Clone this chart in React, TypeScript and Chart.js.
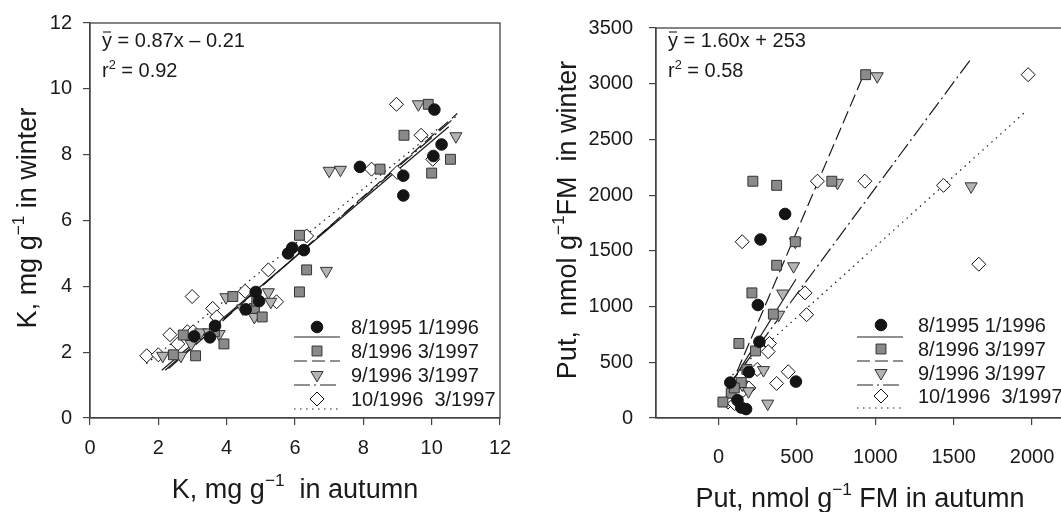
import React, { useEffect, useRef } from 'react';
import { Chart, registerables } from 'chart.js';

Chart.register(...registerables);

const FONT = '"Liberation Sans", Arial, Helvetica, sans-serif';

// ---------------- Legend labels ----------------
const seriesLabels = ['8/1995 1/1996', '8/1996 3/1997', '9/1996 3/1997', '10/1996  3/1997'];

// ---------------- Left panel: K (mg g-1), autumn vs winter ----------------
const kTicksX = [0, 2, 4, 6, 8, 10, 12];
const kTicksY = [0, 2, 4, 6, 8, 10, 12];

const kAutumn95 = [3.05, 3.51, 3.66, 4.56, 4.85, 4.95, 5.8, 5.92, 6.26, 7.9, 9.17, 9.17, 10.05, 10.29, 10.08];
const kWinter95 = [2.48, 2.45, 2.8, 3.3, 3.83, 3.55, 5.0, 5.17, 5.1, 7.63, 7.36, 6.76, 7.96, 8.31, 9.37];

const kAutumn96a = [2.44, 3.09, 2.73, 3.92, 3.64, 4.18, 4.81, 4.88, 5.04, 6.13, 6.34, 6.13, 8.49, 9.19, 9.9, 10.55, 10.0];
const kWinter96a = [1.92, 1.89, 2.52, 2.25, 2.62, 3.69, 3.33, 3.55, 3.07, 5.55, 4.5, 3.83, 7.56, 8.59, 9.53, 7.86, 7.44];

const kAutumn96b = [2.13, 2.66, 2.96, 3.24, 3.48, 3.78, 3.98, 4.47, 4.81, 5.22, 5.29, 6.92, 7.0, 7.33, 9.61, 10.71];
const kWinter96b = [1.89, 1.89, 2.25, 2.6, 2.6, 2.55, 3.67, 3.33, 3.07, 3.82, 3.53, 4.47, 7.51, 7.54, 9.53, 8.56];

const kAutumn96c = [1.66, 2.0, 2.34, 2.57, 2.85, 3.02, 2.99, 3.59, 3.71, 4.54, 5.22, 5.46, 6.34, 8.24, 8.99, 10.03, 9.69, 8.97];
const kWinter96c = [1.89, 1.92, 2.53, 2.25, 2.62, 2.62, 3.69, 3.33, 3.07, 3.85, 4.5, 3.53, 5.53, 7.56, 7.46, 7.86, 8.59, 9.53];

// regression line end points
const kFit95X = [2.1, 10.5];
const kFit95Y = [1.45, 8.85];
const kFit96aX = [2.3, 10.75];
const kFit96aY = [1.5, 9.25];
const kFit96bX = [2.2, 10.7];
const kFit96bY = [1.45, 9.15];
const kFit96cX = [1.65, 10.2];
const kFit96cY = [1.65, 8.8];

// ---------------- Right panel: Put (nmol g-1 FM), autumn vs winter ----------------
const pTicksX = [0, 500, 1000, 1500, 2000];
const pTicksY = [0, 500, 1000, 1500, 2000, 2500, 3000, 3500];

const pAutumn95 = [424, 267, 250, 260, 193, 493, 74, 144, 175, 120];
const pWinter95 = [1831, 1602, 1014, 684, 412, 327, 318, 94, 80, 160];

const pAutumn96a = [938, 218, 370, 722, 370, 489, 212, 349, 129, 235, 180, 144, 80, 27, 100];
const pWinter96a = [3081, 2125, 2088, 2125, 1371, 1582, 1123, 932, 669, 602, 436, 318, 222, 143, 270];

const pAutumn96b = [1012, 758, 1611, 489, 478, 409, 383, 286, 313, 190, 150, 115];
const pWinter96b = [3067, 2111, 2079, 1582, 1362, 1117, 927, 430, 129, 240, 300, 160];

const pAutumn96c = [1975, 630, 933, 1435, 1660, 150, 551, 561, 324, 316, 246, 444, 370, 133, 193, 59, 102];
const pWinter96c = [3081, 2125, 2125, 2088, 1380, 1582, 1123, 927, 669, 596, 436, 415, 310, 217, 269, 143, 129];

const pFit95X = [74, 493];
const pFit95Y = [300, 1245];
const pFit96aX = [27, 913];
const pFit96aY = [120, 3040];
const pFit96bX = [60, 1617];
const pFit96bY = [280, 3235];
const pFit96cX = [60, 1956];
const pFit96cY = [350, 2746];

// ---------------- Styles ----------------
type Marker = { shape: string; r: number; fill: string; stroke: string; rotation: number };
const markers: Marker[] = [
  { shape: 'circle', r: 5.8, fill: '#141414', stroke: '#141414', rotation: 0 },
  { shape: 'rect', r: 7, fill: '#8a8a8a', stroke: '#333333', rotation: 0 },
  { shape: 'triangle', r: 7, fill: '#b4b4b4', stroke: '#333333', rotation: 180 },
  { shape: 'rectRot', r: 7, fill: '#ffffff', stroke: '#111111', rotation: 0 },
];
const dashes: number[][] = [[], [13, 5], [16, 4, 2, 4], [1.5, 4.5]];

const zip = (xs: number[], ys: number[]) => xs.map((x, i) => ({ x, y: ys[i] }));

type Seg = { t: string; sup?: boolean; bar?: boolean };

function drawRich(
  ctx: CanvasRenderingContext2D,
  segs: Seg[],
  x: number,
  y: number,
  size: number,
  align: 'left' | 'center',
  rotate: boolean
) {
  ctx.save();
  ctx.translate(x, y);
  if (rotate) ctx.rotate(-Math.PI / 2);
  ctx.fillStyle = '#1a1a1a';
  ctx.strokeStyle = '#1a1a1a';
  ctx.textAlign = 'left';
  ctx.textBaseline = 'alphabetic';
  const widths = segs.map((s) => {
    ctx.font = `${s.sup ? size * 0.64 : size}px ${FONT}`;
    return ctx.measureText(s.t).width;
  });
  const total = widths.reduce((a, b) => a + b, 0);
  let cx = align === 'center' ? -total / 2 : 0;
  const base = size * 0.36;
  segs.forEach((s, i) => {
    ctx.font = `${s.sup ? size * 0.64 : size}px ${FONT}`;
    const by = s.sup ? base - size * 0.42 : base;
    ctx.fillText(s.t, cx, by);
    if (s.bar) {
      ctx.lineWidth = 1.1;
      ctx.beginPath();
      ctx.moveTo(cx + 1, base - size * 0.76);
      ctx.lineTo(cx + widths[i] - 1, base - size * 0.76);
      ctx.stroke();
    }
    cx += widths[i];
  });
  ctx.restore();
}

function drawMarker(ctx: CanvasRenderingContext2D, m: Marker, x: number, y: number) {
  ctx.save();
  ctx.lineWidth = 1;
  ctx.fillStyle = m.fill;
  ctx.strokeStyle = m.stroke;
  ctx.beginPath();
  const r = m.r;
  if (m.shape === 'circle') {
    ctx.arc(x, y, r, 0, Math.PI * 2);
  } else if (m.shape === 'rect') {
    const s = r * Math.SQRT1_2;
    ctx.rect(x - s, y - s, 2 * s, 2 * s);
  } else if (m.shape === 'triangle') {
    ctx.moveTo(x, y + r);
    ctx.lineTo(x - r * 0.866, y - r / 2);
    ctx.lineTo(x + r * 0.866, y - r / 2);
    ctx.closePath();
  } else {
    ctx.moveTo(x, y - r);
    ctx.lineTo(x + r, y);
    ctx.lineTo(x, y + r);
    ctx.lineTo(x - r, y);
    ctx.closePath();
  }
  ctx.fill();
  ctx.stroke();
  ctx.restore();
}

type DecorCfg = {
  eq: Seg[];
  r2: Seg[];
  eqX: number;
  eqY1: number;
  eqY2: number;
  legendMarkerX: number;
  legendLineX1: number;
  legendLineX2: number;
  legendTextX: number;
  legendRows: number[];
  legendLineOffset: number;
  xTitle: Seg[];
  xTitleX: number;
  xTitleY: number;
  yTitle: Seg[];
  yTitleX: number;
  yTitleY: number;
};

function makeDecor(cfg: DecorCfg) {
  return {
    id: 'decor',
    afterDraw(chart: any) {
      const ctx: CanvasRenderingContext2D = chart.ctx;
      const ca = chart.chartArea;
      ctx.save();
      ctx.strokeStyle = '#444';
      ctx.lineWidth = 1.3;
      ctx.strokeRect(ca.left, ca.top, ca.right - ca.left, ca.bottom - ca.top);
      ctx.restore();

      drawRich(ctx, cfg.eq, cfg.eqX, cfg.eqY1, 20, 'left', false);
      drawRich(ctx, cfg.r2, cfg.eqX, cfg.eqY2, 20, 'left', false);

      cfg.legendRows.forEach((ry, i) => {
        ctx.save();
        ctx.strokeStyle = '#222';
        ctx.lineWidth = 1.2;
        ctx.setLineDash(dashes[i]);
        ctx.beginPath();
        ctx.moveTo(cfg.legendLineX1, ry + cfg.legendLineOffset);
        ctx.lineTo(cfg.legendLineX2, ry + cfg.legendLineOffset);
        ctx.stroke();
        ctx.restore();
        drawMarker(ctx, markers[i], cfg.legendMarkerX, ry);
        drawRich(ctx, [{ t: seriesLabels[i] }], cfg.legendTextX, ry, 20, 'left', false);
      });

      drawRich(ctx, cfg.xTitle, cfg.xTitleX, cfg.xTitleY, 27, 'center', false);
      drawRich(ctx, cfg.yTitle, cfg.yTitleX, cfg.yTitleY, 27, 'center', true);
    },
  };
}

function buildDatasets(
  xs: number[][],
  ys: number[][],
  fitX: number[][],
  fitY: number[][]
) {
  const pts = xs.map((x, i) => ({
    label: seriesLabels[i],
    data: zip(x, ys[i]),
    pointStyle: markers[i].shape,
    pointRadius: markers[i].r,
    pointRotation: markers[i].rotation,
    pointBackgroundColor: markers[i].fill,
    pointBorderColor: markers[i].stroke,
    pointBorderWidth: 1,
    backgroundColor: markers[i].fill,
    borderColor: markers[i].stroke,
    showLine: false,
    order: 0,
  }));
  const lines = fitX.map((x, i) => ({
    label: seriesLabels[i] + ' fit',
    data: zip(x, fitY[i]),
    showLine: true,
    pointRadius: 0,
    borderColor: '#1a1a1a',
    borderWidth: 1.2,
    borderDash: dashes[i],
    fill: false,
    order: 1,
  }));
  return [...pts, ...lines];
}

function tickScale(
  min: number,
  max: number,
  ticks: number[],
  axis: 'x' | 'y',
  fixedSize: number,
  pad: number
) {
  return {
    type: 'linear',
    position: axis === 'x' ? 'bottom' : 'left',
    min,
    max,
    afterBuildTicks: (s: any) => {
      s.ticks = ticks.map((v) => ({ value: v }));
    },
    afterFit: (s: any) => {
      if (axis === 'x') s.height = fixedSize;
      else s.width = fixedSize;
    },
    grid: {
      display: true,
      drawOnChartArea: false,
      drawTicks: true,
      tickLength: 7,
      color: '#444',
      lineWidth: 1.2,
    },
    border: { display: true, color: '#444', width: 1.3 },
    ticks: {
      color: '#1a1a1a',
      font: { family: FONT, size: 20 },
      padding: pad,
      maxRotation: 0,
      autoSkip: false,
      callback: (v: any) => String(v),
    },
    title: { display: false },
  };
}

function Panel(props: {
  left: number;
  width: number;
  datasets: any[];
  xScale: any;
  yScale: any;
  padRight: number;
  decor: DecorCfg;
}) {
  const ref = useRef<HTMLCanvasElement | null>(null);
  useEffect(() => {
    if (!ref.current) return;
    const chart = new Chart(ref.current, {
      type: 'scatter',
      data: { datasets: props.datasets },
      options: {
        responsive: false,
        animation: false,
        devicePixelRatio: 1,
        layout: { padding: { left: 0, top: 19, right: props.padRight, bottom: 0 } },
        scales: { x: props.xScale, y: props.yScale },
        plugins: { legend: { display: false }, tooltip: { enabled: false }, title: { display: false } },
      } as any,
      plugins: [makeDecor(props.decor) as any],
    });
    return () => chart.destroy();
  }, []);
  return (
    <canvas
      ref={ref}
      width={props.width}
      height={512}
      style={{ position: 'absolute', left: props.left, top: 0, width: props.width, height: 512 }}
    />
  );
}

export default function App() {
  const leftDatasets = buildDatasets(
    [kAutumn95, kAutumn96a, kAutumn96b, kAutumn96c],
    [kWinter95, kWinter96a, kWinter96b, kWinter96c],
    [kFit95X, kFit96aX, kFit96bX, kFit96cX],
    [kFit95Y, kFit96aY, kFit96bY, kFit96cY]
  );
  const rightDatasets = buildDatasets(
    [pAutumn95, pAutumn96a, pAutumn96b, pAutumn96c],
    [pWinter95, pWinter96a, pWinter96b, pWinter96c],
    [pFit95X, pFit96aX, pFit96bX, pFit96cX],
    [pFit95Y, pFit96aY, pFit96bY, pFit96cY]
  );

  const leftDecor: DecorCfg = {
    eq: [{ t: 'y', bar: true }, { t: ' = 0.87x \u2013 0.21' }],
    r2: [{ t: 'r' }, { t: '2', sup: true }, { t: ' = 0.92' }],
    eqX: 102,
    eqY1: 40,
    eqY2: 70,
    legendMarkerX: 317,
    legendLineX1: 294,
    legendLineX2: 340,
    legendTextX: 351,
    legendRows: [327, 351, 375, 399],
    legendLineOffset: 10,
    xTitle: [{ t: 'K, mg g' }, { t: '\u22121', sup: true }, { t: '  in autumn' }],
    xTitleX: 295,
    xTitleY: 488,
    yTitle: [{ t: 'K, mg g' }, { t: '\u22121', sup: true }, { t: ' in winter' }],
    yTitleX: 26,
    yTitleY: 218,
  };

  const rl = 545;
  const rightDecor: DecorCfg = {
    eq: [{ t: 'y', bar: true }, { t: ' = 1.60x + 253' }],
    r2: [{ t: 'r' }, { t: '2', sup: true }, { t: ' = 0.58' }],
    eqX: 668 - rl,
    eqY1: 40,
    eqY2: 70,
    legendMarkerX: 881 - rl,
    legendLineX1: 857 - rl,
    legendLineX2: 903 - rl,
    legendTextX: 918 - rl,
    legendRows: [325, 349, 373, 396],
    legendLineOffset: 12,
    xTitle: [{ t: 'Put, nmol g' }, { t: '\u22121', sup: true }, { t: ' FM in autumn' }],
    xTitleX: 860 - rl,
    xTitleY: 497,
    yTitle: [{ t: 'Put,  nmol g' }, { t: '\u22121', sup: true }, { t: 'FM  in winter' }],
    yTitleX: 566 - rl,
    yTitleY: 220,
  };

  return (
    <div
      style={{
        position: 'absolute',
        left: 0,
        top: 0,
        width: 1061,
        height: 512,
        overflow: 'hidden',
        background: '#fff',
      }}
    >
      <Panel
        left={0}
        width={545}
        datasets={leftDatasets}
        xScale={tickScale(0, 12, kTicksX, 'x', 94, 11)}
        yScale={tickScale(0, 12, kTicksY, 'y', 90, 11)}
        padRight={45}
        decor={leftDecor}
      />
      <Panel
        left={rl}
        width={530}
        datasets={rightDatasets}
        xScale={tickScale(-400, 2200, pTicksX, 'x', 94, 20)}
        yScale={tickScale(0, 3500, pTicksY, 'y', 111, 16)}
        padRight={9}
        decor={rightDecor}
      />
    </div>
  );
}
